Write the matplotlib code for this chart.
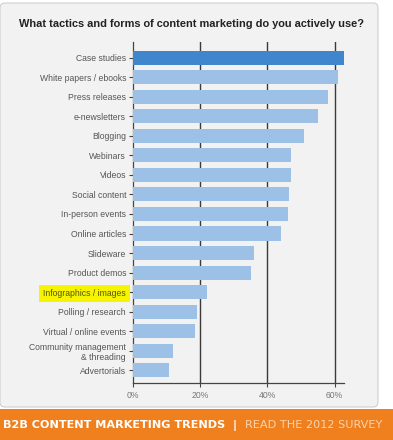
import matplotlib.pyplot as plt
from matplotlib.patches import FancyBboxPatch, Rectangle

tactics = ['Case studies', 'White papers / ebooks', 'Press releases', 'e-newsletters',
           'Blogging', 'Webinars', 'Videos', 'Social content', 'In-person events',
           'Online articles', 'Slideware', 'Product demos', 'Infographics / images',
           'Polling / research', 'Virtual / online events',
           'Community management\n& threading', 'Advertorials']
usage = [63, 61, 58, 55, 51, 47, 47, 46.5, 46, 44, 36, 35, 22, 19, 18.5, 12, 10.7]
x_ticks = [0, 20, 40, 60]
x_tick_labels = ['0%', '20%', '40%', '60%']

plt.rcParams['font.family'] = ['Liberation Sans', 'DejaVu Sans']

fig = plt.figure(figsize=(3.93, 4.4), dpi=100)
fig.patch.set_facecolor('white')

# grey panel behind the chart
panel = FancyBboxPatch((0.0, 1 - 407 / 440), 378 / 393, (407 - 3) / 440,
                       boxstyle='round,pad=0,rounding_size=0.012',
                       transform=fig.transFigure, facecolor='#f2f2f2',
                       edgecolor='#cfcfcf', linewidth=0.8, zorder=-5)
fig.patches.append(panel)

# orange footer band
fig.patches.append(Rectangle((0, 0), 1, 31 / 440, transform=fig.transFigure,
                             facecolor='#f07f1e', edgecolor='none', zorder=-5))

ax = fig.add_axes([133 / 393, 1 - 383 / 440, (344 - 133) / 393, (383 - 42) / 440])
ax.set_facecolor('none')
ax.set_zorder(2)

pos = list(range(len(tactics)))
colors = ['#3f86cc'] + ['#9dc0e6'] * (len(tactics) - 1)
ax.barh(pos, usage, height=0.72, color=colors, edgecolor='none', zorder=3)

ax.set_ylim(16.65, -0.8)
ax.set_xlim(0, 62.8)

ax.set_yticks(pos)
ax.set_yticklabels(tactics, fontsize=6.2, color='#555555')
ax.set_xticks(x_ticks)
ax.set_xticklabels(x_tick_labels, fontsize=6.2, color='#777777')
ax.tick_params(axis='y', length=3, width=0.8, color='#444444', pad=2)
ax.tick_params(axis='x', length=3, width=0.8, color='#444444', pad=3)

for v in x_ticks[1:]:
    ax.axvline(v, color='#3a3a3a', linewidth=1.0, zorder=1)

for side in ['top', 'right']:
    ax.spines[side].set_visible(False)
for side in ['left', 'bottom']:
    ax.spines[side].set_color('#444444')
    ax.spines[side].set_linewidth(0.9)

# yellow highlight on one label
for lbl in ax.get_yticklabels():
    if lbl.get_text().startswith('Infographics'):
        lbl.set_color('#555500')
        lbl.set_bbox(dict(boxstyle='square,pad=0.45', facecolor='#f6f400',
                          edgecolor='none'))

fig.text(0.487, 1 - 24 / 440,
         'What tactics and forms of content marketing do you actively use?',
         ha='center', va='center', fontsize=7.9, fontweight='bold', color='#222222')

t1 = fig.text(3 / 393, 15 / 440, 'B2B CONTENT MARKETING TRENDS  |  ',
              ha='left', va='center', fontsize=8.1, fontweight='bold',
              color='white', family=['DejaVu Sans'])
fig.canvas.draw()
bb = t1.get_window_extent()
fig.text(bb.x1 / fig.bbox.width, 15 / 440, 'READ THE 2012 SURVEY',
         ha='left', va='center', fontsize=8.1, color='#fbd3ad',
         family=['DejaVu Sans'])

fig.savefig('out.png', dpi=100)
